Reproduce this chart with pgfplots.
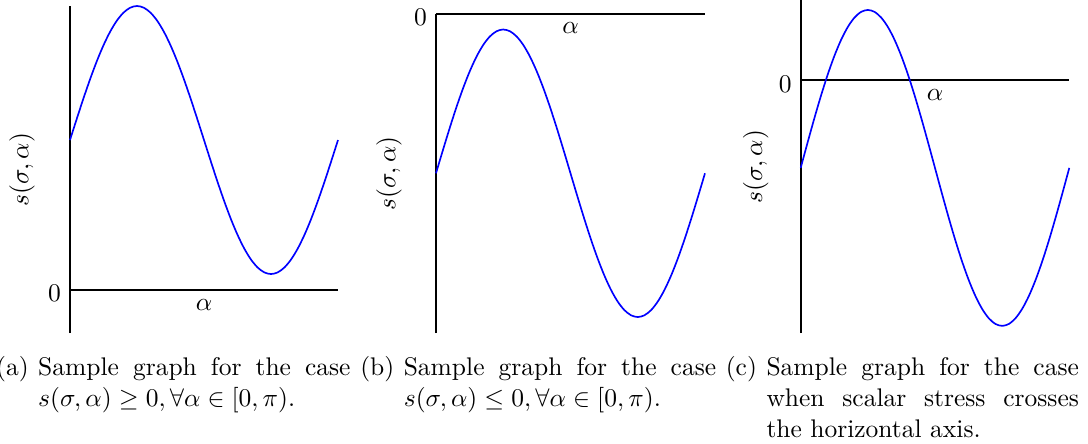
\documentclass[border=0pt]{standalone}
\usepackage{pgfplots}
\usepackage{pgfplotstable}
\pgfplotsset{compat=1.18}

% s(sigma,alpha) sampled on alpha in [0,pi] for the three cases
% a: always non-negative, b: always non-positive, c: crossing zero
\pgfplotstableread{
alpha    sa      sb       sc
0.00000  1.1200  -1.1100  -0.5550
0.07854  1.2764  -0.9536  -0.3986
0.15708  1.4290  -0.8010  -0.2460
0.23562  1.5740  -0.6560  -0.1010
0.31416  1.7078  -0.5222   0.0328
0.39270  1.8271  -0.4029   0.1521
0.47124  1.9290  -0.3010   0.2540
0.54978  2.0110  -0.2190   0.3360
0.62832  2.0711  -0.1589   0.3961
0.70686  2.1077  -0.1223   0.4327
0.78540  2.1200  -0.1100   0.4450
0.86394  2.1077  -0.1223   0.4327
0.94248  2.0711  -0.1589   0.3961
1.02102  2.0110  -0.2190   0.3360
1.09956  1.9290  -0.3010   0.2540
1.17810  1.8271  -0.4029   0.1521
1.25664  1.7078  -0.5222   0.0328
1.33518  1.5740  -0.6560  -0.1010
1.41372  1.4290  -0.8010  -0.2460
1.49226  1.2764  -0.9536  -0.3986
1.57080  1.1200  -1.1100  -0.5550
1.64934  0.9636  -1.2664  -0.7114
1.72788  0.8110  -1.4190  -0.8640
1.80642  0.6660  -1.5640  -1.0090
1.88496  0.5322  -1.6978  -1.1428
1.96350  0.4129  -1.8171  -1.2621
2.04204  0.3110  -1.9190  -1.3640
2.12058  0.2290  -2.0010  -1.4460
2.19911  0.1689  -2.0611  -1.5061
2.27765  0.1323  -2.0977  -1.5427
2.35619  0.1200  -2.1100  -1.5550
2.43473  0.1323  -2.0977  -1.5427
2.51327  0.1689  -2.0611  -1.5061
2.59181  0.2290  -2.0010  -1.4460
2.67035  0.3110  -1.9190  -1.3640
2.74889  0.4129  -1.8171  -1.2621
2.82743  0.5322  -1.6978  -1.1428
2.90597  0.6660  -1.5640  -1.0090
2.98451  0.8110  -1.4190  -0.8640
3.06305  0.9636  -1.2664  -0.7114
3.14159  1.1200  -1.1100  -0.5550
}\stressdata

\pgfplotsset{
  stressplot/.style={
    scale only axis,
    anchor=south west,
    xmin=0, xmax=3.14159,
    axis x line=middle,
    axis y line=left,
    axis line style={-, line width=0.8pt, black},
    xtick=\empty,
    ytick={0},
    hide obscured y ticks=false,
    hide obscured x ticks=false,
    tick align=inside,
    major tick length=7.45pt,
    major tick style={line width=0.9pt, black},
    yticklabel style={yshift=-1.4pt},
    clip=false,
  },
  stresscurve/.style={blue, line width=0.65pt, smooth, no markers},
}

\begin{document}
\begin{tikzpicture}
\useasboundingbox (0,0) rectangle (426.67pt,174.12pt);

% (a) non-negative case
\begin{axis}[stressplot,
  at={(27.45pt,43.53pt)}, width=105.10pt, height=128.24pt,
  ymin=-0.32, ymax=2.12]
  \addplot[stresscurve] table[x=alpha, y=sa] {\stressdata};
  \node[anchor=north] at (axis cs:1.5708,0) {$\alpha$};
  \node[rotate=90] at (axis description cs:-0.179,0.5) {$s(\sigma,\alpha)$};
\end{axis}

% (b) non-positive case
\begin{axis}[stressplot,
  at={(170.98pt,43.53pt)}, width=105.49pt, height=125.22pt,
  ymin=-2.221, ymax=0]
  \addplot[stresscurve] table[x=alpha, y=sb] {\stressdata};
  \node[anchor=north] at (axis cs:1.5708,0) {$\alpha$};
  \node[rotate=90] at (axis description cs:-0.1744,0.5) {$s(\sigma,\alpha)$};
\end{axis}

% (c) sign-changing case
\begin{axis}[stressplot,
  at={(314.0pt,43.53pt)}, width=105.33pt, height=130.59pt,
  ymin=-1.6, ymax=0.508]
  \addplot[stresscurve] table[x=alpha, y=sc] {\stressdata};
  \node[anchor=north] at (axis cs:1.5708,0) {$\alpha$};
  \node[rotate=90] at (axis description cs:-0.1671,0.5) {$s(\sigma,\alpha)$};
\end{axis}

% sub-captions
\node[anchor=base east, inner sep=0pt] at (11.45pt,26.67pt) {(a)};
\node[anchor=base west, inner sep=0pt, text width=122.5pt, align=justify] at (14.78pt,26.67pt)
  {Sample graph for the case $s(\sigma,\alpha)\geq 0, \forall\alpha\in[0,\pi)$.};

\node[anchor=base east, inner sep=0pt] at (154.83pt,26.67pt) {(b)};
\node[anchor=base west, inner sep=0pt, text width=122.5pt, align=justify] at (158.16pt,26.67pt)
  {Sample graph for the case $s(\sigma,\alpha)\leq 0, \forall\alpha\in[0,\pi)$.};

\node[anchor=base east, inner sep=0pt] at (297.06pt,26.67pt) {(c)};
\node[anchor=base west, inner sep=0pt, text width=122.5pt, align=justify] at (300.39pt,26.67pt)
  {Sample graph for the case when scalar stress crosses the horizontal axis.};
\end{tikzpicture}
\end{document}
